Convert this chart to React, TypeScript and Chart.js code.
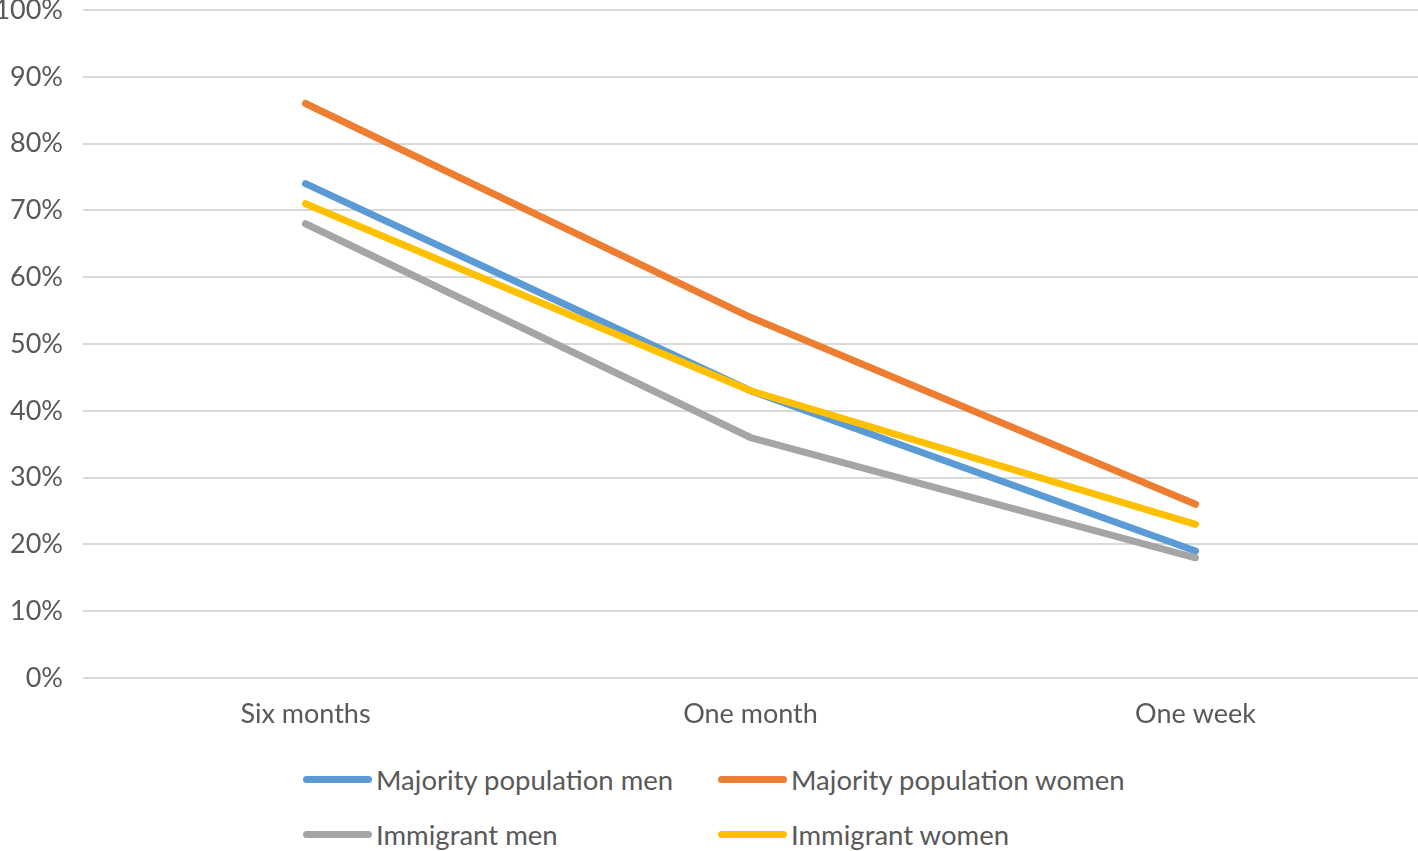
import React, { useEffect, useRef } from "react";
import { Chart, registerables } from "chart.js";

Chart.register(...registerables);

const categories = ["Six months", "One month", "One week"];
const majorityMen = [74, 43, 19];
const majorityWomen = [86, 54, 26];
const immigrantMen = [68, 36, 18];
const immigrantWomen = [71, 43, 23];
const seriesNames = ["Majority population men", "Majority population women", "Immigrant men", "Immigrant women"];
const seriesColors = ["#5b9bd5", "#ed7d31", "#a5a5a5", "#ffc000"];
const yTicks = [0, 10, 20, 30, 40, 50, 60, 70, 80, 90, 100];

const FONT = "Lato, 'Open Sans', sans-serif";

export default function App() {
  const ref = useRef<HTMLCanvasElement | null>(null);
  useEffect(() => {
    if (!ref.current) return;
    const values = [majorityMen, majorityWomen, immigrantMen, immigrantWomen];
    const chart = new Chart(ref.current, {
      type: "line",
      data: {
        labels: categories,
        datasets: values.map((v, i) => ({
          label: seriesNames[i],
          data: v,
          borderColor: seriesColors[i],
          backgroundColor: seriesColors[i],
          borderWidth: 7,
          borderCapStyle: "round" as const,
          borderJoinStyle: "round" as const,
          pointRadius: 0,
          tension: 0,
          order: 4 - i,
        })),
      },
      options: {
        animation: false,
        responsive: false,
        maintainAspectRatio: false,
        layout: { padding: { top: 10, right: 0, left: 0, bottom: 0 } },
        plugins: { legend: { display: false }, tooltip: { enabled: false } },
        scales: {
          x: {
            type: "category",
            offset: true,
            grid: { display: false, drawTicks: false },
            border: { display: false },
            ticks: { color: "#595959", font: { family: FONT, size: 27 }, padding: 20, maxRotation: 0 },
            afterFit: (s: any) => { s.height = 62; s.paddingLeft = 0; s.paddingRight = 0; },
          },
          y: {
            min: 0,
            max: 100,
            afterBuildTicks: (s: any) => { s.ticks = yTicks.map((v) => ({ value: v })); },
            grid: { color: "#d9d9d9", lineWidth: 2, drawTicks: false },
            border: { display: false },
            ticks: {
              color: "#595959",
              font: { family: FONT, size: 27 },
              padding: 20,
              callback: (v: any) => v + "%",
            },
            afterFit: (s: any) => { s.width = 83; s.paddingTop = 0; s.paddingBottom = 0; },
          },
        },
      },
    });
    return () => chart.destroy();
  }, []);

  const legendItem = (i: number, left: number, top: number) => (
    <div key={i} style={{ position: "absolute", left, top, display: "flex", alignItems: "center", height: 30 }}>
      <div style={{ width: 69, height: 7, borderRadius: 4, background: seriesColors[i], marginRight: 4 }} />
      <span style={{ fontFamily: FONT, fontSize: 27.5, color: "#595959", whiteSpace: "nowrap" }}>{seriesNames[i]}</span>
    </div>
  );

  return (
    <div style={{ position: "fixed", left: 0, top: 0, width: 1418, height: 851, background: "#fff" }}>
      <canvas ref={ref} width={1418} height={740} style={{ display: "block", width: 1418, height: 740 }} />
      {legendItem(0, 303, 764)}
      {legendItem(1, 718, 764)}
      {legendItem(2, 303, 819)}
      {legendItem(3, 718, 819)}
    </div>
  );
}
